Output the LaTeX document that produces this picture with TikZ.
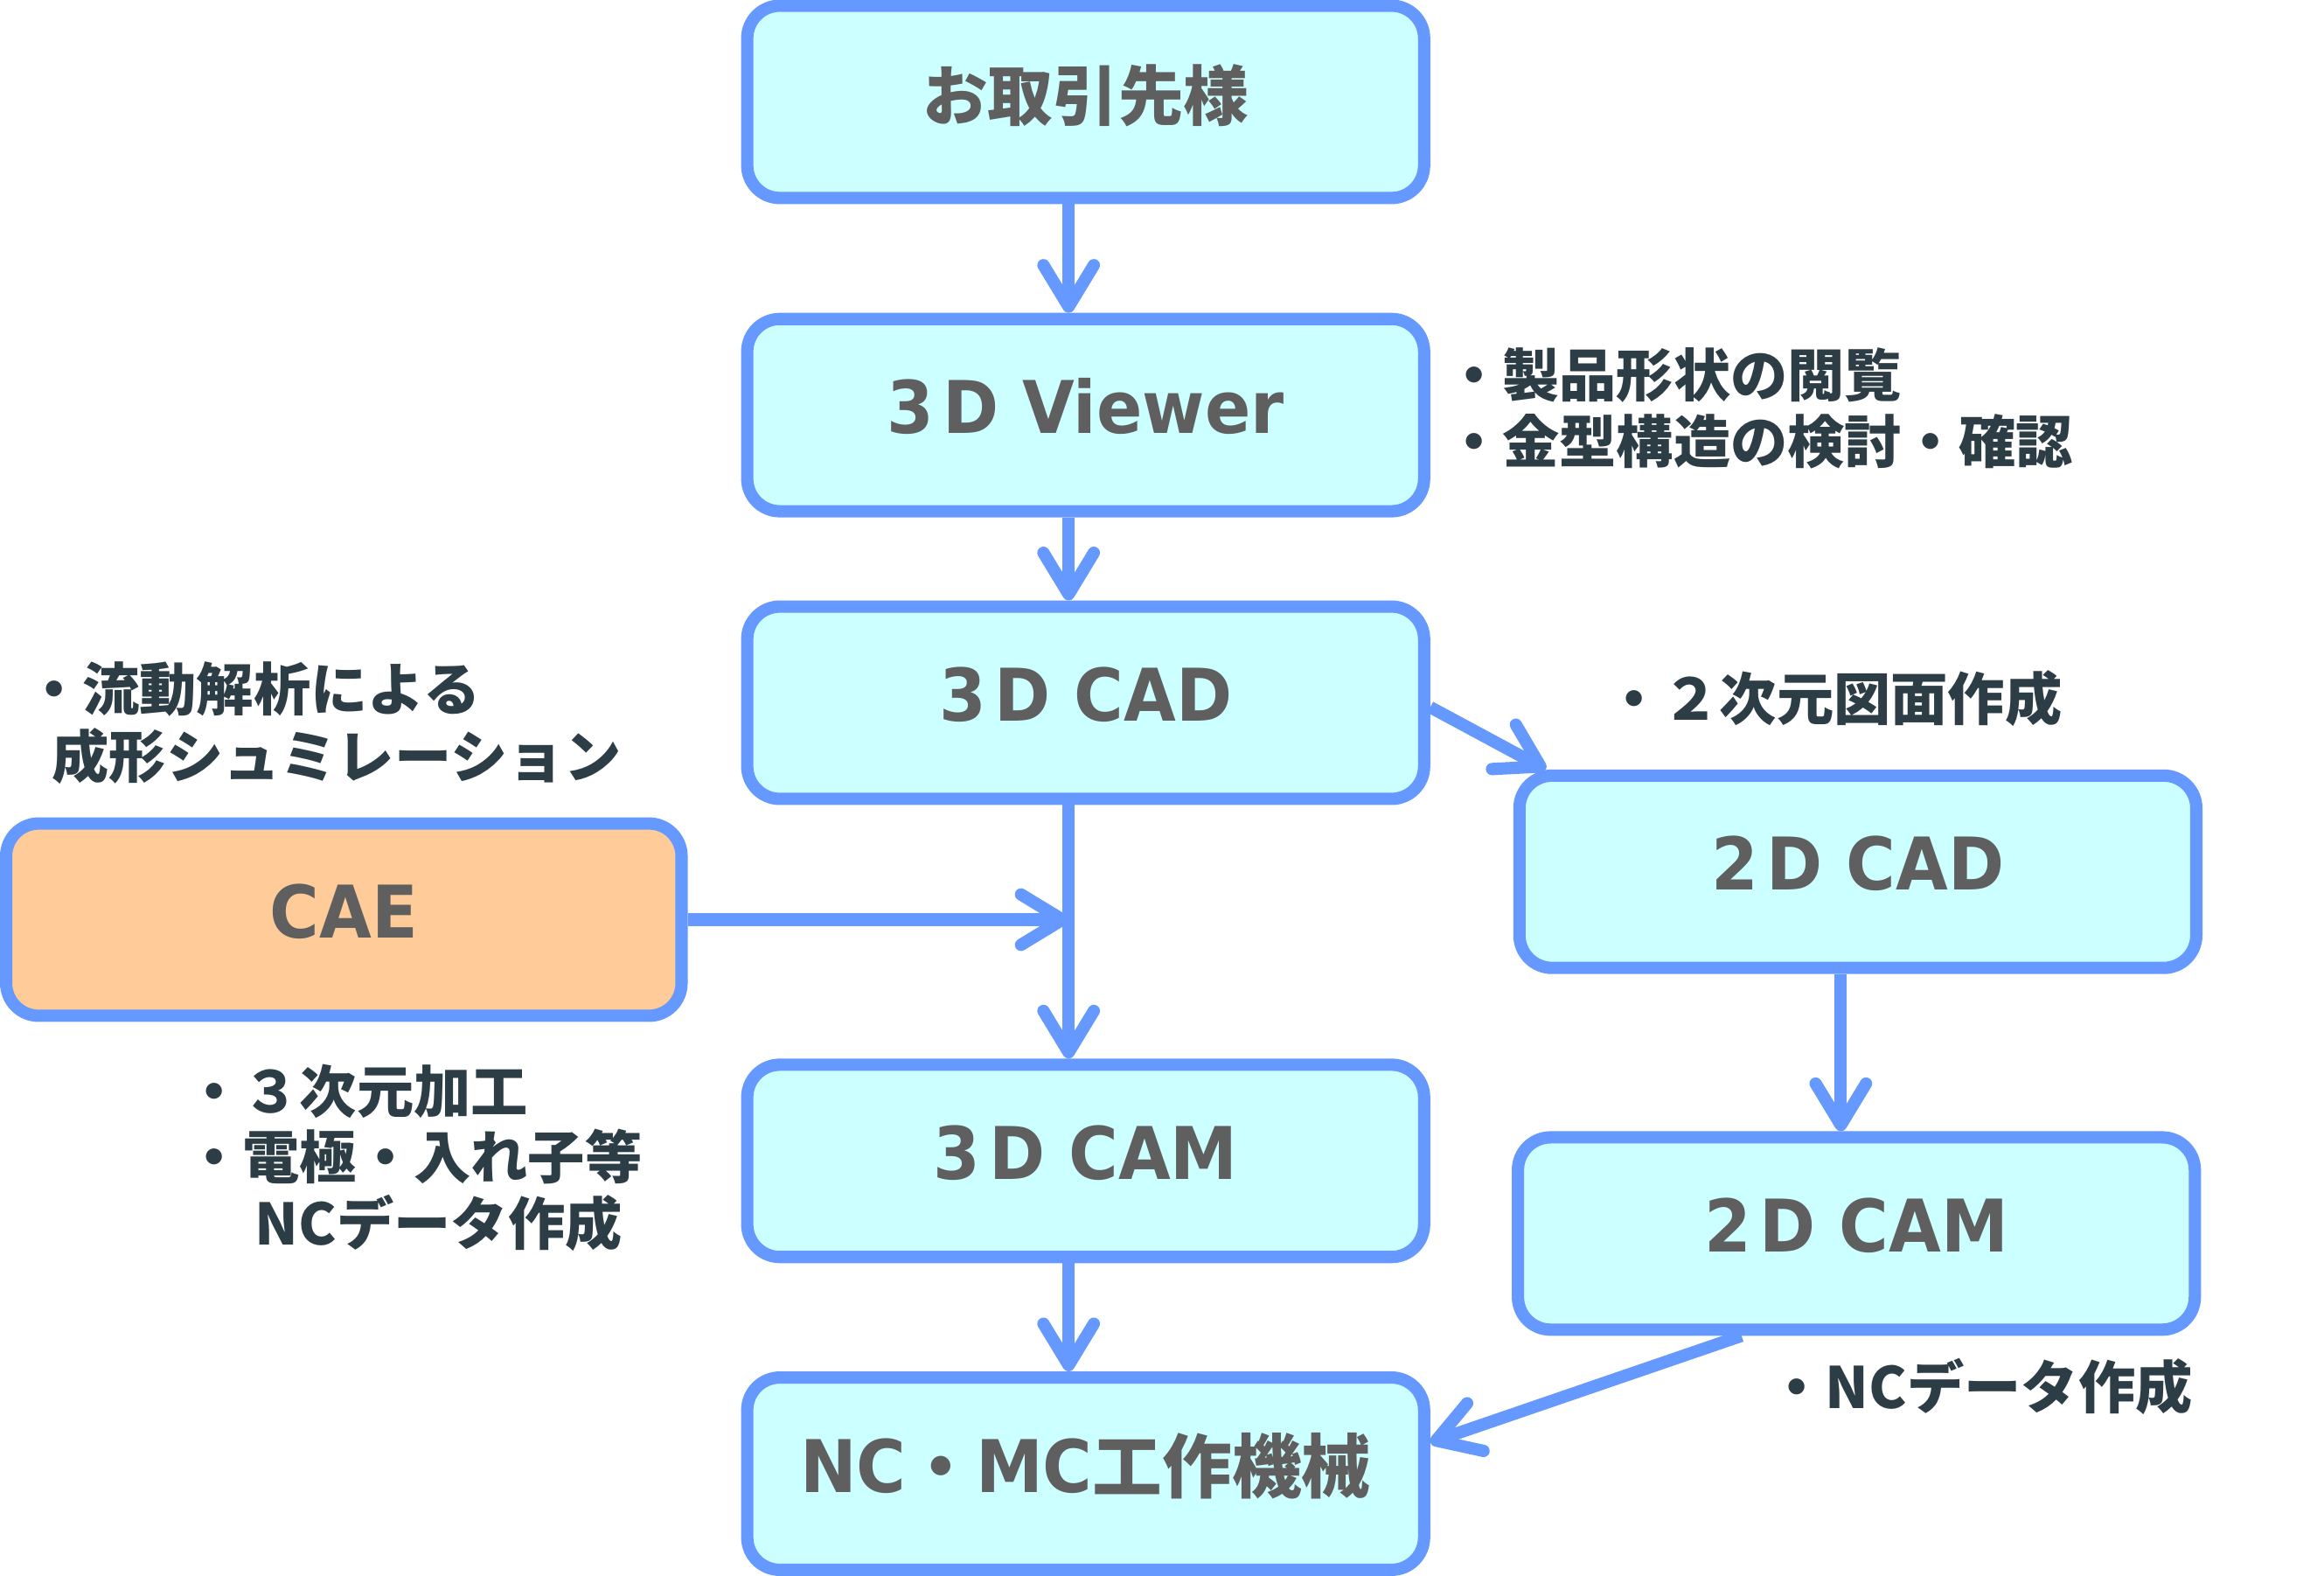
\documentclass[tikz,border=0pt]{standalone}
\usepackage{fontspec}
\usetikzlibrary{arrows.meta}
\newfontfamily\jp{Noto Sans CJK JP}
\newfontfamily\lat{DejaVu Sans}[FakeStretch=0.93]
\definecolor{bord}{HTML}{6699FF}
\definecolor{cyanfill}{HTML}{CCFFFF}
\definecolor{orangefill}{HTML}{FFCC99}
\definecolor{boxtext}{HTML}{5F5F5F}
\definecolor{notetext}{HTML}{2D3D45}
\newcommand{\jpbox}{\jp\bfseries\fontsize{44}{48}\selectfont}
\newcommand{\jpboxwide}{\jp\bfseries\fontsize{47}{50}\selectfont}
\begin{document}
\begin{tikzpicture}[x=1pt,y=-1pt,
  box/.style={draw=bord, line width=8.3pt, fill=cyanfill, rounded corners=22pt,
    minimum width=456.7pt, minimum height=129.7pt, inner sep=0pt,
    text height=30pt, text depth=5pt, text=boxtext,
    font=\lat\bfseries\fontsize{49}{54}\selectfont},
  conn/.style={draw=bord, line width=8.3pt,
    -{Straight Barb[length=28pt, width=34pt, round]}},
  note/.style={anchor=west, inner sep=0pt, text=notetext,
    font=\jp\bfseries\fontsize{38.5}{44}\selectfont}]
\fill[white] (0,0) rectangle (1568,1063);
\useasboundingbox (0,0) rectangle (1568,1063);

\node[box] (top) at (732.5,68.7) {\jpbox お取引先様};
\node[box] (viewer) at (732.5,280) {3\kern0.12em D Viewer};
\node[box] (cadthree) at (732.5,474) {3\kern0.12em D CAD};
\node[box, fill=orangefill, minimum width=455.7pt] (cae) at (232,620.3) {CAE};
\node[box] (camthree) at (732.5,783) {3\kern0.12em D CAM};
\node[box] (nc) at (732.5,994) {NC{\jpboxwide ・}MC{\jpboxwide 工作機械}};
\node[box] (cadtwo) at (1253.5,588) {2\kern0.12em D CAD};
\node[box] (camtwo) at (1252.5,832) {2\kern0.12em D CAM};

\coordinate (ax) at (721,0);
\coordinate (bx) at (1242,0);

\draw[conn] (top.south -| ax) -- (viewer.north -| ax);
\draw[conn] (viewer.south -| ax) -- (cadthree.north -| ax);
\draw[conn] (cadthree.south -| ax) -- (camthree.north -| ax);
\draw[conn] (camthree.south -| ax) -- (nc.north -| ax);
\draw[conn] (cae.east) -- (cae.east -| ax);
\draw[conn] ([yshift=-3pt]cadthree.east) -- ([shift={(22,0)}]cadtwo.north west);
\draw[conn] (cadtwo.south -| bx) -- (camtwo.north -| bx);
\draw[conn] ([xshift=-77.5pt]camtwo.south) -- ([shift={(0,-21)}]nc.east);

\node[note] (n1) at (975,253) {・製品形状の閲覧};
\node[note] (n2) at (975,298) {・金型構造の検討・確認};
\node[note] (n3) at (17,465) {・流動解析による};
\node[note] (n4) at (35,510) {成形シュミレーション};
\node[note] (n5) at (1083,471) {・２次元図面作成};
\node[note] (n6) at (125,736) {・３次元加工};
\node[note] (n7) at (125,780) {・電極・入れ子等};
\node[note] (n8) at (172,825) {NCデータ作成};
\node[note] (n9) at (1193,935) {・NCデータ作成};
\end{tikzpicture}
\end{document}
